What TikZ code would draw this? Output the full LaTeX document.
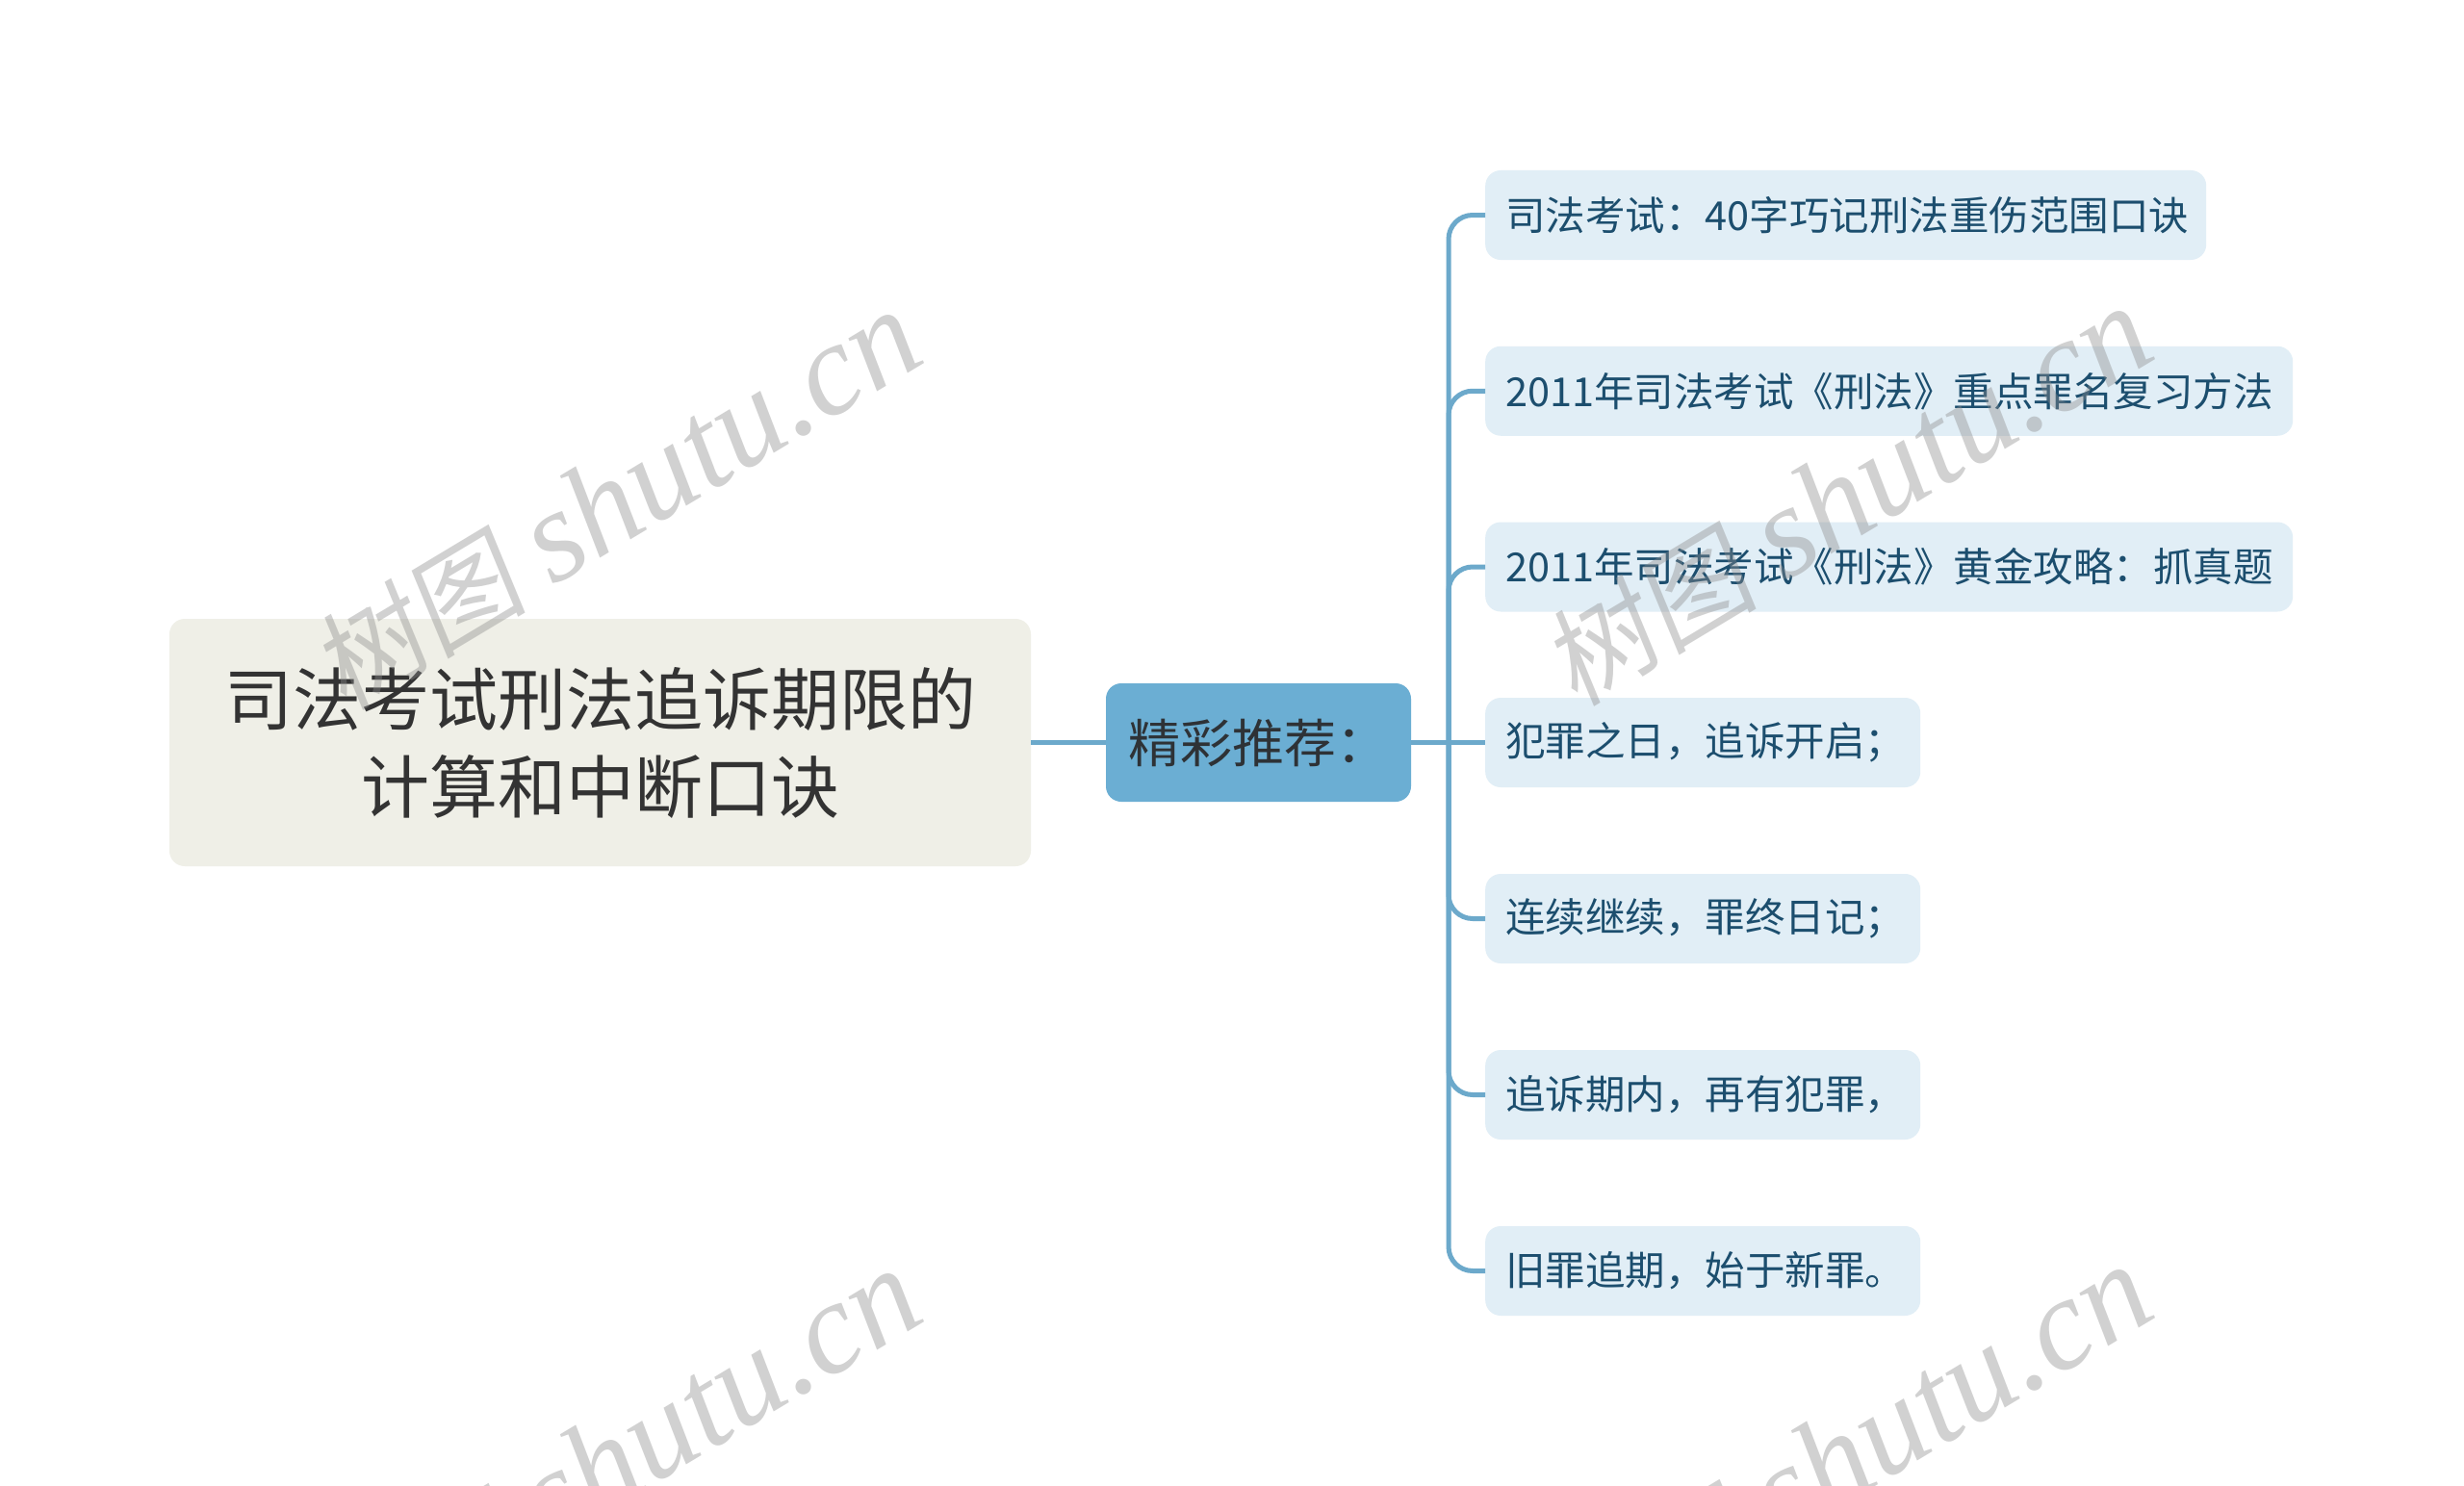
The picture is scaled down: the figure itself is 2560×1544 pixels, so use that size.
\documentclass[tikz,border=0pt]{standalone}
\usepackage{fontspec}
\setmainfont{Noto Sans CJK SC}
\newfontfamily\wmlatin{Liberation Serif}
\newfontfamily\wmcjk[FakeSlant=0.15]{Noto Sans CJK SC}
\definecolor{rootfill}{HTML}{EFEFE7}
\definecolor{roottext}{HTML}{333333}
\definecolor{midfill}{HTML}{6BAED3}
\definecolor{midtext}{HTML}{2E3236}
\definecolor{connc}{HTML}{6CA9CB}
\definecolor{leaffill}{HTML}{E1EEF6}
\definecolor{leaftext}{HTML}{1C4E6E}
\definecolor{wmgray}{HTML}{8C8C8C}
\tikzset{
  rootbox/.style={rectangle, rounded corners=16, fill=rootfill, text=roottext,
    minimum width=895, minimum height=257, inner sep=0, align=center,
    font=\fontsize{71}{91}\selectfont},
  midbox/.style={rectangle, rounded corners=16, fill=midfill, text=midtext,
    minimum width=317, minimum height=123, inner sep=0, align=center,
    font=\fontsize{54}{64}\selectfont},
  leafbox/.style={rectangle, rounded corners=16, fill=leaffill, text=leaftext,
    anchor=west, minimum height=93, inner xsep=21, inner ysep=0, align=left,
    font=\fontsize{41.5}{50}\selectfont},
  conn/.style={draw=connc, line width=5},
  wmark/.style={text=wmgray, text opacity=0.4, inner sep=0}
}
\begin{document}
\begin{tikzpicture}[x=1pt,y=-1pt]
\useasboundingbox (0,0) rectangle (2560,1544);
\fill[white] (0,0) rectangle (2560,1544);

% nodes
\node[rootbox] (root) at (623.5,771.5) {司法考试刑法追诉期限的\\计算和中断口诀};
\node[midbox] (mid) at (1307.5,771.5) {精彩推荐：};

\node[leafbox, text width=707] (l1) at (1543,223.5) {司法考试：40字巧记刑法重伤范围口诀};
\node[leafbox, text width=797] (l2) at (1543,406.25) {2011年司法考试《刑法》重点罪名复习方法};
\node[leafbox, text width=797] (l3) at (1543,589) {2011年司法考试《刑法》黄金攻略：抓真题};
\node[leafbox, text width=410] (l4) at (1543,771.5) {犯罪之日，追诉开启；};
\node[leafbox, text width=410] (l5) at (1543,954.5) {连续继续，罪终日记；};
\node[leafbox, text width=410] (l6) at (1543,1137.5) {追诉期内，再有犯罪，};
\node[leafbox, text width=410] (l7) at (1543,1320.5) {旧罪追期，始于新罪。};

% connectors
\coordinate (hub) at (1505,771.5);
\draw[conn] (root.east) -- (mid.west);
\draw[conn] (mid.east) -- (hub);
\foreach \n in {l1,l2,l3,l5,l6,l7}{
  \draw[conn, rounded corners=25] (hub) |- (\n.west);
}
\draw[conn] (hub) -- (l4.west);

% watermarks
\begin{scope}
\clip (0,0) rectangle (2560,1544);
\foreach \nm/\px/\py in {wm1/640/520, wm2/1919/516, wm3/640/1516, wm4/1919/1512}{
  \node[wmark, rotate=31] (\nm) at (\px,\py)
    {{\wmcjk\fontsize{112}{116}\selectfont 树图}\hspace{28pt}{\wmlatin\itshape\fontsize{136}{140}\selectfont shutu.cn}};
}
\end{scope}
\end{tikzpicture}
\end{document}
